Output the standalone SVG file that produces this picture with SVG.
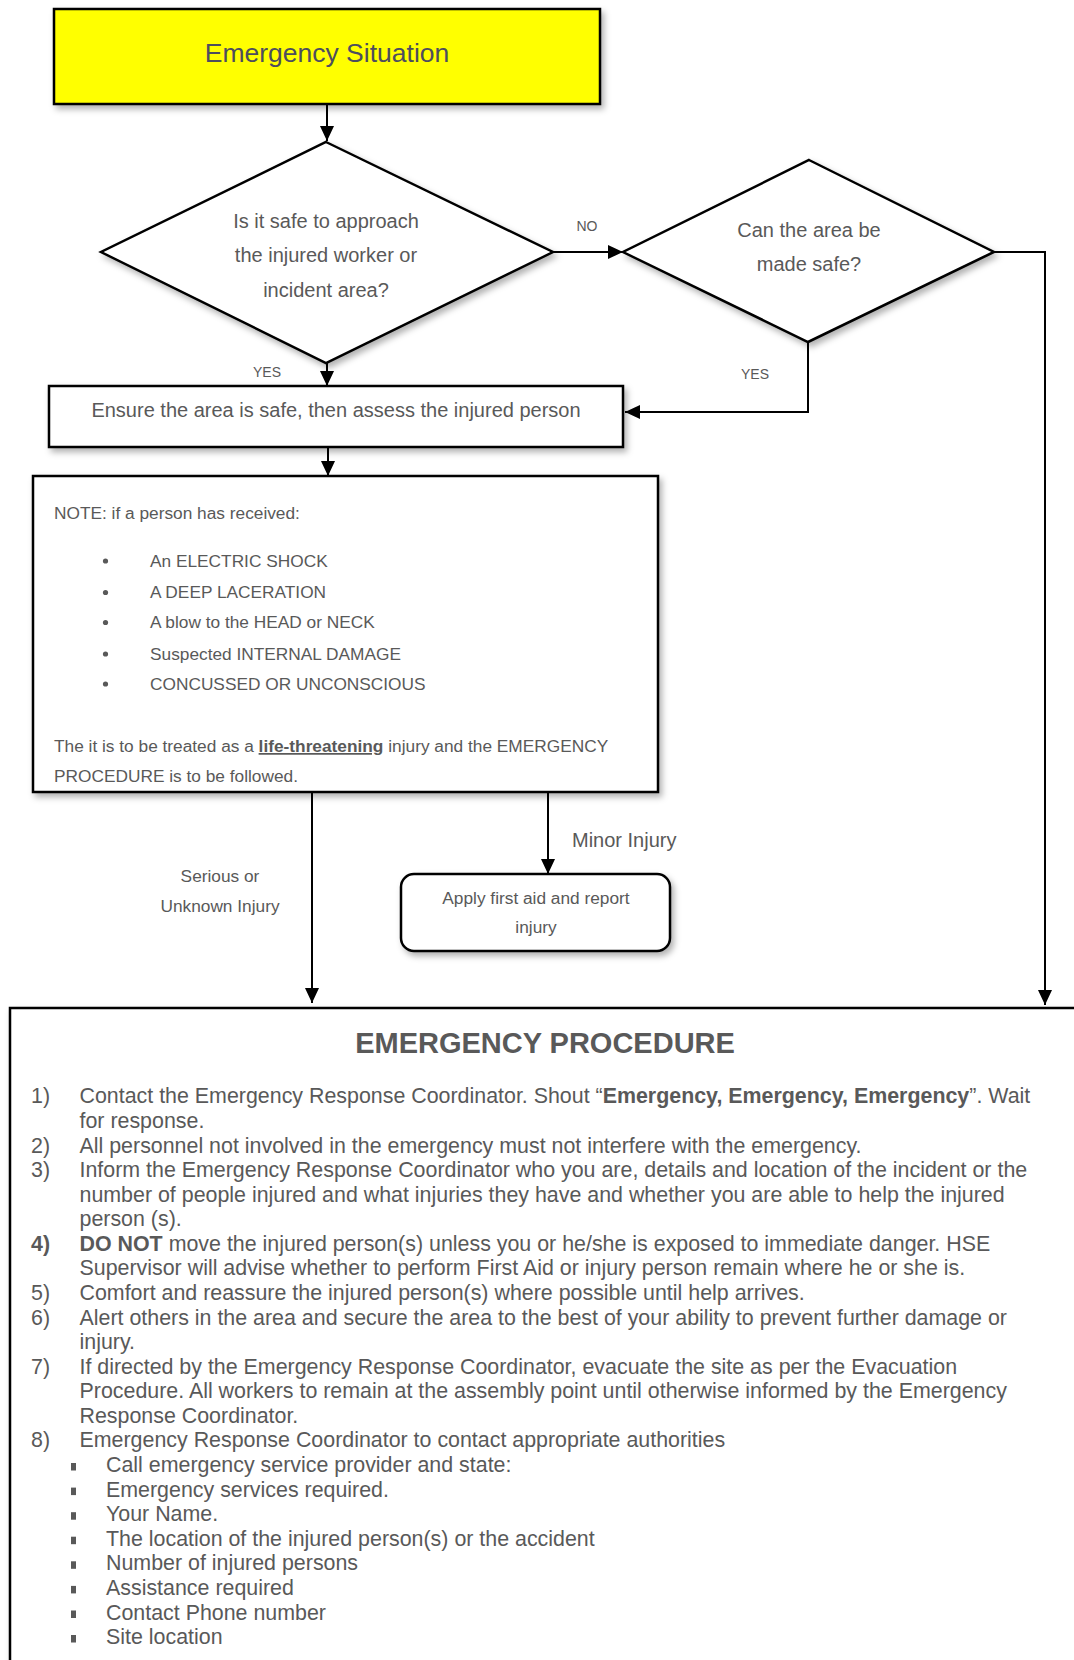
<svg xmlns="http://www.w3.org/2000/svg" width="1074" height="1660" viewBox="0 0 1074 1660">
<style>
text{font-family:"Liberation Sans",Arial,sans-serif;fill:#595959}
.shape{fill:#fff;stroke:#000;stroke-width:2.5}
.conn{fill:none;stroke:#000;stroke-width:2}
.dtxt{font-size:20px;text-anchor:middle}
.lbl{font-size:14px;text-anchor:middle}
.note{font-size:17.3px}
.proc{font-size:21.4px}
.b{font-weight:bold}
</style>
<defs>
<marker id="arr" markerUnits="userSpaceOnUse" markerWidth="15" markerHeight="14" refX="15" refY="7" orient="auto">
<path d="M0,0 L15,7 L0,14 z" fill="#000"/>
</marker>
<filter id="sh" x="-10%" y="-10%" width="130%" height="130%">
<feDropShadow dx="3" dy="4" stdDeviation="3" flood-color="#000" flood-opacity="0.3"/>
</filter>
</defs>

<g id="connectors">
<line class="conn" x1="327" y1="104" x2="327" y2="141" marker-end="url(#arr)"/>
<line class="conn" x1="327" y1="363" x2="327" y2="386" marker-end="url(#arr)"/>
<line class="conn" x1="554" y1="252" x2="623" y2="252" marker-end="url(#arr)"/>
<polyline class="conn" points="808,342 808,412 625,412" marker-end="url(#arr)"/>
<polyline class="conn" points="994,252 1045,252 1045,1005" marker-end="url(#arr)"/>
<line class="conn" x1="328" y1="447" x2="328" y2="476" marker-end="url(#arr)"/>
<line class="conn" x1="312" y1="793" x2="312" y2="1003" marker-end="url(#arr)"/>
<line class="conn" x1="548" y1="793" x2="548" y2="874" marker-end="url(#arr)"/>
<text class="lbl" x="587" y="231">NO</text>
<text class="lbl" x="267" y="377">YES</text>
<text class="lbl" x="755" y="379">YES</text>
<text style="font-size:20px" x="572" y="847">Minor Injury</text>
<text class="note" x="220" y="882" text-anchor="middle">Serious or</text>
<text class="note" x="220" y="912" text-anchor="middle">Unknown Injury</text>
</g>

<g id="emergency-situation">
<rect x="54" y="9" width="546" height="95" fill="#ffff00" stroke="#000" stroke-width="2.5" filter="url(#sh)"/>
<text x="327" y="62" style="font-size:26.5px;fill:#4d4d5e" text-anchor="middle">Emergency Situation</text>
</g>

<g id="safe-to-approach">
<polygon class="shape" points="326,142 553,252 326,363 101,252" filter="url(#sh)"/>
<text class="dtxt" x="326" y="228">Is it safe to approach</text>
<text class="dtxt" x="326" y="262">the injured worker or</text>
<text class="dtxt" x="326" y="297">incident area?</text>
</g>

<g id="made-safe">
<polygon class="shape" points="809,160 994,252 808,342 623,252" filter="url(#sh)"/>
<text class="dtxt" x="809" y="237">Can the area be</text>
<text class="dtxt" x="809" y="271">made safe?</text>
</g>

<g id="assess">
<rect class="shape" x="49" y="386" width="574" height="61" filter="url(#sh)"/>
<text class="dtxt" x="336" y="417">Ensure the area is safe, then assess the injured person</text>
</g>

<g id="note">
<rect class="shape" x="33" y="476" width="625" height="316" stroke-width="2" filter="url(#sh)"/>
<text class="note" x="54" y="519">NOTE: if a person has received:</text>
<g fill="#595959">
<circle cx="105.5" cy="561" r="2.6"/>
<circle cx="105.5" cy="592.5" r="2.6"/>
<circle cx="105.5" cy="622.5" r="2.6"/>
<circle cx="105.5" cy="654" r="2.6"/>
<circle cx="105.5" cy="684" r="2.6"/>
</g>
<text class="note" x="150" y="567">An ELECTRIC SHOCK</text>
<text class="note" x="150" y="598">A DEEP LACERATION</text>
<text class="note" x="150" y="628">A blow to the HEAD or NECK</text>
<text class="note" x="150" y="660">Suspected INTERNAL DAMAGE</text>
<text class="note" x="150" y="690">CONCUSSED OR UNCONSCIOUS</text>
<text class="note" x="54" y="752">The it is to be treated as a <tspan class="b" text-decoration="underline">life-threatening</tspan> injury and the EMERGENCY</text>
<text class="note" x="54" y="782">PROCEDURE is to be followed.</text>
</g>

<g id="first-aid">
<rect class="shape" x="401" y="874" width="269" height="77" rx="13" ry="13" filter="url(#sh)"/>
<text class="note" x="536" y="904" text-anchor="middle">Apply first aid and report</text>
<text class="note" x="536" y="933" text-anchor="middle">injury</text>
</g>

<g id="emergency-procedure">
<rect class="shape" x="10" y="1008" width="1090" height="700" filter="url(#sh)"/>
<text x="545" y="1053" class="b" style="font-size:29px" text-anchor="middle">EMERGENCY PROCEDURE</text>
<text class="proc" x="31" y="1103.3">1)</text>
<text class="proc" x="79.5" y="1103.3">Contact the Emergency Response Coordinator. Shout “<tspan class="b">Emergency, Emergency, Emergency</tspan>”. Wait</text>
<text class="proc" x="79.5" y="1127.9">for response.</text>
<text class="proc" x="31" y="1152.5">2)</text>
<text class="proc" x="79.5" y="1152.5">All personnel not involved in the emergency must not interfere with the emergency.</text>
<text class="proc" x="31" y="1177.0">3)</text>
<text class="proc" x="79.5" y="1177.0">Inform the Emergency Response Coordinator who you are, details and location of the incident or the</text>
<text class="proc" x="79.5" y="1201.6">number of people injured and what injuries they have and whether you are able to help the injured</text>
<text class="proc" x="79.5" y="1226.2">person (s).</text>
<text class="proc b" x="31" y="1250.8">4)</text>
<text class="proc" x="79.5" y="1250.8"><tspan class="b">DO NOT</tspan> move the injured person(s) unless you or he/she is exposed to immediate danger. HSE</text>
<text class="proc" x="79.5" y="1275.4">Supervisor will advise whether to perform First Aid or injury person remain where he or she is.</text>
<text class="proc" x="31" y="1299.9">5)</text>
<text class="proc" x="79.5" y="1299.9">Comfort and reassure the injured person(s) where possible until help arrives.</text>
<text class="proc" x="31" y="1324.5">6)</text>
<text class="proc" x="79.5" y="1324.5">Alert others in the area and secure the area to the best of your ability to prevent further damage or</text>
<text class="proc" x="79.5" y="1349.1">injury.</text>
<text class="proc" x="31" y="1373.7">7)</text>
<text class="proc" x="79.5" y="1373.7">If directed by the Emergency Response Coordinator, evacuate the site as per the Evacuation</text>
<text class="proc" x="79.5" y="1398.2">Procedure. All workers to remain at the assembly point until otherwise informed by the Emergency</text>
<text class="proc" x="79.5" y="1422.8">Response Coordinator.</text>
<text class="proc" x="31" y="1447.4">8)</text>
<text class="proc" x="79.5" y="1447.4">Emergency Response Coordinator to contact appropriate authorities</text>
<g fill="#595959">
<rect x="71" y="1463" width="5" height="7.5"/>
<rect x="71" y="1487.6" width="5" height="7.5"/>
<rect x="71" y="1512.2" width="5" height="7.5"/>
<rect x="71" y="1536.7" width="5" height="7.5"/>
<rect x="71" y="1561.3" width="5" height="7.5"/>
<rect x="71" y="1585.9" width="5" height="7.5"/>
<rect x="71" y="1610.5" width="5" height="7.5"/>
<rect x="71" y="1635" width="5" height="7.5"/>
</g>
<text class="proc" x="106" y="1472.0">Call emergency service provider and state:</text>
<text class="proc" x="106" y="1496.6">Emergency services required.</text>
<text class="proc" x="106" y="1521.2">Your Name.</text>
<text class="proc" x="106" y="1545.7">The location of the injured person(s) or the accident</text>
<text class="proc" x="106" y="1570.3">Number of injured persons</text>
<text class="proc" x="106" y="1594.9">Assistance required</text>
<text class="proc" x="106" y="1619.5">Contact Phone number</text>
<text class="proc" x="106" y="1644.0">Site location</text>
</g>
</svg>
